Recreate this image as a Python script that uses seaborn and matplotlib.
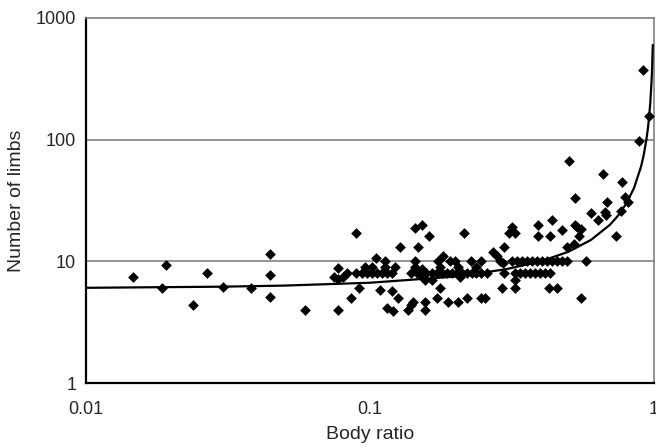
import matplotlib
matplotlib.use("Agg")
import matplotlib.pyplot as plt
import seaborn as sns
import numpy as np
import pandas as pd

body_ratio = [
    0.0147, 0.0186, 0.0192, 0.0238, 0.0266, 0.0304, 0.038, 0.0446, 0.0446, 0.0446,
    0.059, 0.0747, 0.0773, 0.0773, 0.0805, 0.0828, 0.0773, 0.0855, 0.0895, 0.0895,
    0.0935, 0.0917, 0.096, 0.0973, 0.1014, 0.1014, 0.1056, 0.105, 0.110, 0.1084,
    0.1129, 0.1129, 0.1145, 0.1192, 0.1225, 0.1198, 0.1258, 0.1145, 0.1208, 0.128,
    0.144, 0.153, 0.148, 0.162, 0.144, 0.144,
    0.140, 0.146, 0.152, 0.158, 0.165, 0.172, 0.179, 0.186, 0.194, 0.202,
    0.210, 0.219, 0.228, 0.237, 0.2455,
    0.152, 0.154, 0.156, 0.165, 0.136, 0.142, 0.140, 0.156, 0.156, 0.172,
    0.177, 0.188, 0.2035, 0.174, 0.181, 0.191, 0.199, 0.176, 0.2045, 0.207,
    0.215, 0.220, 0.226, 0.237, 0.2455, 0.2455, 0.254, 0.2575, 0.27, 0.279,
    0.287, 0.295, 0.297, 0.296, 0.292, 0.315, 0.309, 0.324,
    0.315, 0.328, 0.342, 0.356, 0.371, 0.386, 0.402, 0.419, 0.436, 0.454,
    0.473, 0.493,
    0.324, 0.337, 0.351, 0.365, 0.380, 0.396, 0.412, 0.4295,
    0.325, 0.325, 0.390, 0.390, 0.436, 0.432, 0.426, 0.457, 0.475, 0.495,
    0.503, 0.528, 0.527, 0.534, 0.553, 0.544, 0.522, 0.578, 0.552, 0.598,
    0.634, 0.659, 0.671, 0.68, 0.683, 0.733, 0.762, 0.773, 0.792, 0.807,
    0.883, 0.915, 0.959,
]
n_limbs = [
    7.5, 6, 9.3, 4.4, 8, 6.1, 6, 11.4, 7.7, 5.1,
    4, 7.5, 8.8, 7.1, 7.5, 8, 4, 5, 17, 8,
    8, 6, 9, 8, 8, 9, 8, 10.7, 8, 5.8,
    10, 9, 8, 8, 9, 5.7, 5, 4.1, 3.9, 13,
    18.7, 20, 13, 16, 10, 9,
    8, 8, 8, 8, 8, 8, 8, 8, 8, 8,
    8, 8, 8, 8, 8,
    8.7, 7.5, 7, 7, 4, 4.6, 4.4, 4.6, 4, 5,
    6, 4.6, 4.6, 10, 11, 10, 10, 9, 9, 7.5,
    17, 5, 10, 9, 10, 5, 5, 8, 12, 11,
    10, 9.6, 13, 8, 6, 19, 17, 17,
    10, 10, 10, 10, 10, 10, 10, 10, 10, 10,
    10, 10,
    8, 8, 8, 8, 8, 8, 8, 8,
    7, 6, 20, 16.3, 22, 16, 6, 6, 18, 13,
    67, 33, 20, 19, 18.5, 16, 14, 10, 5, 25,
    22, 52, 25.5, 24, 31, 16, 26, 45, 34, 30.6,
    97, 373, 155,
]

# Fitted curve, points
curve_x = [0.01, 0.03, 0.05, 0.1, 0.2, 0.3, 0.4, 0.5, 0.6, 0.7, 0.75, 0.8,
           0.85, 0.9, 0.92, 0.94, 0.95, 0.96, 0.97, 0.98, 0.985, 0.99]
curve_y = [6.06, 6.19, 6.32, 6.67, 7.5, 8.6, 10, 12, 15, 20, 24, 30,
           40, 60, 75, 100, 120, 150, 200, 300, 400, 600]

x_ticks = [0.01, 0.1, 1]
x_tick_labels = ['0.01', '0.1', '1']
y_ticks = [1, 10, 100, 1000]
y_tick_labels = ['1', '10', '100', '1000']

sns.set_style('white')
plt.rcParams['font.family'] = ['Liberation Sans', 'DejaVu Sans']

df = pd.DataFrame({'ratio': body_ratio, 'limbs': n_limbs})

fig = plt.figure(figsize=(6.56, 4.48), dpi=100)
ax = fig.add_axes([0.131, 0.145, 0.866, 0.815])

ax.set_xscale('log')
ax.set_yscale('log')

# Gridlines at the major decades
for yv in y_ticks[1:3]:
    ax.axhline(yv, color='#808080', linewidth=1.2, zorder=0)

sns.scatterplot(data=df, x='ratio', y='limbs', marker='D', color='black',
                s=30, linewidth=0, ax=ax, zorder=3)
sns.lineplot(x=curve_x, y=curve_y, color='black', linewidth=1.6,
             estimator=None, sort=False, ax=ax, zorder=4)

ax.set_xlim(0.01, 1)
ax.set_ylim(1, 1000)
ax.set_xticks(x_ticks)
ax.set_xticklabels(x_tick_labels)
ax.set_yticks(y_ticks)
ax.set_yticklabels(y_tick_labels)
ax.minorticks_off()

ax.tick_params(axis='both', which='major', length=4, width=1, color='#808080',
               labelsize=13, direction='out', pad=3)
ax.tick_params(axis='x', pad=9)

for side in ['left', 'bottom']:
    ax.spines[side].set_color('black')
    ax.spines[side].set_linewidth(1.6)
for side in ['top', 'right']:
    ax.spines[side].set_color('#808080')
    ax.spines[side].set_linewidth(1.2)

ax.set_xlabel('Body ratio', fontsize=14, labelpad=6)
ax.set_ylabel('Number of limbs', fontsize=14, labelpad=8)

fig.savefig('out.png', dpi=100)
